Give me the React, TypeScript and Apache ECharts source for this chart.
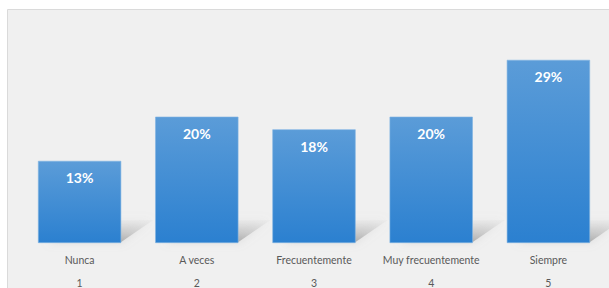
import React, { useEffect, useRef } from "react";
import * as echarts from "echarts";

const categories = ["Nunca", "A veces", "Frecuentemente", "Muy frecuentemente", "Siempre"];
const codes = ["1", "2", "3", "4", "5"];
const values = [13, 20, 18, 20, 29];

export default function App() {
  const ref = useRef<HTMLDivElement>(null);
  useEffect(() => {
    const chart = echarts.init(ref.current!, null, { renderer: "svg" });
    const barColor = new echarts.graphic.LinearGradient(0, 0, 0, 1, [
      { offset: 0, color: "#5b9cd8" },
      { offset: 1, color: "#2b80d0" },
    ]);
    chart.setOption({
      animation: false,
      backgroundColor: "#ffffff",
      graphic: [
        {
          type: "rect",
          z: -10,
          silent: true,
          shape: { x: 7.5, y: 9.5, width: 620, height: 300 },
          style: { fill: "#f0f0f0", stroke: "#dadada", lineWidth: 1 },
        },
      ],
      grid: { left: 21, right: 2, top: 22, bottom: 44, containLabel: false },
      xAxis: [
        {
          type: "category",
          data: categories,
          axisLine: { show: false },
          axisTick: { show: false },
          axisLabel: {
            color: "#595959",
            fontFamily: "Lato",
            fontSize: 10.5,
            margin: 11,
            interval: 0,
          },
        },
        {
          type: "category",
          data: codes,
          position: "bottom",
          offset: 23,
          axisLine: { show: false },
          axisTick: { show: false },
          axisLabel: {
            color: "#595959",
            fontFamily: "Lato",
            fontSize: 10.5,
            margin: 11,
            interval: 0,
          },
        },
      ],
      yAxis: {
        type: "value",
        min: 0,
        max: 35,
        show: false,
        splitLine: { show: false },
      },
      series: [
        {
          type: "custom",
          xAxisIndex: 0,
          z: 1,
          silent: true,
          data: values.map((v, i) => [i, v]),
          renderItem: (params: any, api: any) => {
            const base = api.coord([api.value(0), 0]);
            const bw = api.size([1, 0])[0] * 0.71;
            const xR = base[0] + bw / 2;
            const xL = base[0] - bw / 2;
            const yB = base[1];
            return {
              type: "polygon",
              shape: {
                points: [
                  [xL + 10, yB - 1],
                  [xR, yB - 1],
                  [xR + 32, yB - 23],
                  [xL + 40, yB - 23],
                ],
              },
              style: {
                fill: new echarts.graphic.LinearGradient(0, 1, 0, 0, [
                  { offset: 0, color: "rgba(150,150,150,0.7)" },
                  { offset: 1, color: "rgba(200,200,200,0.1)" },
                ]),
                shadowBlur: 8,
                shadowColor: "rgba(170,170,170,0.5)",
              },
            };
          },
        },
        {
          type: "bar",
          xAxisIndex: 0,
          z: 2,
          data: values,
          barWidth: "71%",
          itemStyle: {
            color: barColor,
            borderColor: "#7fb3e3",
            borderWidth: 0.6,
          },
          label: {
            show: true,
            position: "insideTop",
            distance: 10,
            formatter: "{c}%",
            color: "#ffffff",
            fontFamily: "Lato",
            fontWeight: "bold",
            fontSize: 14,
          },
        },
      ],
    });
    return () => chart.dispose();
  }, []);
  return (
    <div
      ref={ref}
      style={{ position: "fixed", left: 0, top: 0, width: 609, height: 288 }}
    />
  );
}
